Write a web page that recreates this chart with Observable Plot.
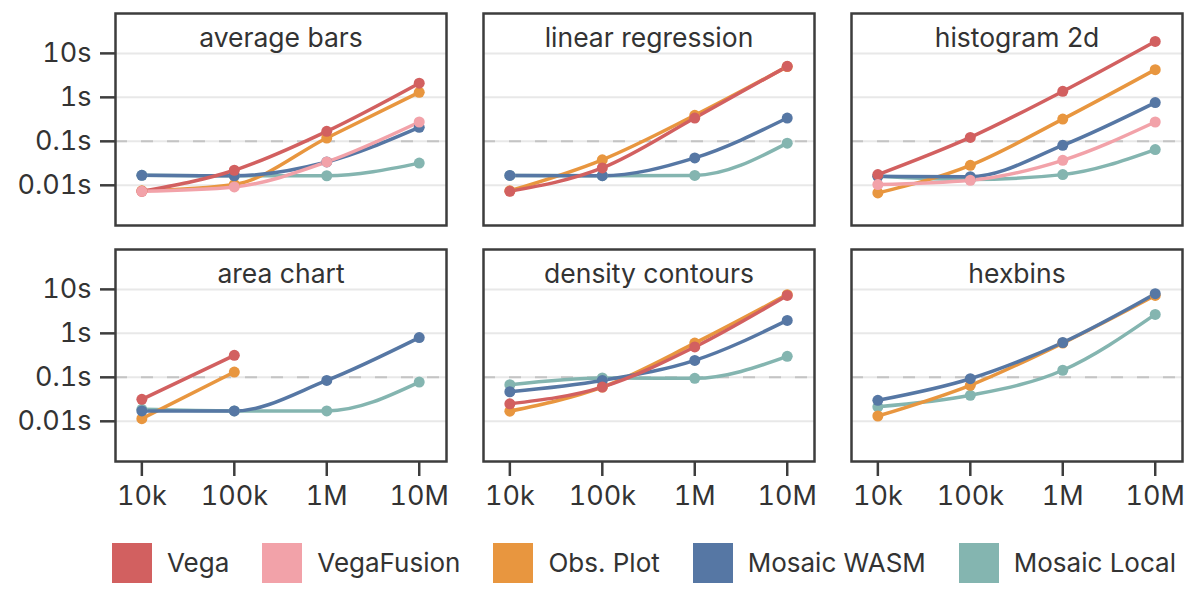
<!DOCTYPE html>
<html>
<head>
<meta charset="utf-8">
<script src="https://cdn.jsdelivr.net/npm/d3@7"></script>
<script src="https://cdn.jsdelivr.net/npm/@observablehq/plot@0.6"></script>
<style>
  html, body { margin: 0; padding: 0; background: #fff; }
  body { width: 1200px; height: 594px; position: relative; font-family: Inter, "Noto Sans", sans-serif; color: #333; }
  #legend { position: absolute; top: 543px; left: 112px; width: 1064px; display: flex; justify-content: space-between; align-items: center; }
  .item { display: flex; align-items: center; gap: 15px; font-size: 26px; line-height: 40px; color: #333; }
  .sw { width: 40px; height: 40px; display: inline-block; }
</style>
</head>
<body>
<div id="chart"></div>
<div id="legend"></div>
<script>
const sizes = [1e4, 1e5, 1e6, 1e7];
const sizeLabels = ["10k", "100k", "1M", "10M"];
const timeTicks = [0.01, 0.1, 1, 10];
const timeLabels = ["0.01s", "0.1s", "1s", "10s"];
const tasks = ["average bars", "linear regression", "histogram 2d", "area chart", "density contours", "hexbins"];
const taskCol = [0, 1, 2, 0, 1, 2];
const taskRow = [0, 0, 0, 1, 1, 1];
const systems = ["Vega", "VegaFusion", "Obs. Plot", "Mosaic WASM", "Mosaic Local"];
const colors = ["#d26060", "#f2a2a9", "#e8963f", "#5677a4", "#84b5b0"];
const drawOrder = ["Mosaic Local", "Obs. Plot", "Mosaic WASM", "Vega", "VegaFusion"];

// seconds, per task (in task order), per data size (10k, 100k, 1M, 10M)
const vegaTimes = [
  [0.0073, 0.022, 0.169, 2.1],
  [0.0073, 0.0248, 0.339, 5.07],
  [0.0175, 0.123, 1.37, 18.7],
  [0.0316, 0.316, null, null],
  [0.025, 0.06, 0.49, 7.3],
  [null, null, null, null]
];
const vegaFusionTimes = [
  [0.0073, 0.0092, 0.034, 0.275],
  [null, null, null, null],
  [0.0104, 0.013, 0.037, 0.275],
  [null, null, null, null],
  [null, null, null, null],
  [null, null, null, null]
];
const obsPlotTimes = [
  [0.0075, 0.0105, 0.119, 1.3],
  [0.0075, 0.038, 0.39, 5.0],
  [0.0067, 0.0285, 0.32, 4.27],
  [0.0115, 0.132, null, null],
  [0.017, 0.06, 0.6, 7.6],
  [0.0132, 0.066, 0.6, 7.3]
];
const mosaicWasmTimes = [
  [0.0169, 0.0165, 0.034, 0.208],
  [0.0168, 0.0166, 0.042, 0.339],
  [0.016, 0.0157, 0.081, 0.76],
  [0.0172, 0.0172, 0.085, 0.8],
  [0.047, 0.085, 0.243, 1.97],
  [0.030, 0.093, 0.62, 7.97]
];
const mosaicLocalTimes = [
  [0.0169, 0.0165, 0.0165, 0.032],
  [0.0168, 0.0166, 0.0168, 0.091],
  [0.016, 0.0135, 0.0175, 0.065],
  [0.0187, 0.0172, 0.0172, 0.078],
  [0.068, 0.097, 0.095, 0.30],
  [0.0214, 0.039, 0.145, 2.7]
];

const seriesBySystem = {
  "Vega": vegaTimes,
  "VegaFusion": vegaFusionTimes,
  "Obs. Plot": obsPlotTimes,
  "Mosaic WASM": mosaicWasmTimes,
  "Mosaic Local": mosaicLocalTimes
};

const rows = [];
for (const sys of drawOrder) {
  seriesBySystem[sys].forEach((vals, t) => {
    vals.forEach((v, i) => {
      if (v != null) rows.push({system: sys, task: tasks[t], col: taskCol[t], row: taskRow[t], size: sizes[i], time: v});
    });
  });
}
const titles = tasks.map((t, i) => ({task: t, col: taskCol[i], row: taskRow[i]}));

const chart = Plot.plot({
  width: 1200,
  height: 512,
  marginLeft: 114,
  marginRight: 16,
  marginTop: 12,
  marginBottom: 50,
  style: {fontFamily: "Inter, 'Noto Sans', sans-serif", fontSize: "27px", color: "#333", background: "#fff"},
  fx: {axis: null, padding: 0.1},
  fy: {axis: null, padding: 0.1},
  x: {type: "log", domain: [10 ** 3.715, 10 ** 7.295], axis: null},
  y: {type: "log", domain: [10 ** -2.914, 10 ** 1.907], axis: null},
  color: {domain: systems, range: colors},
  marks: [
    Plot.ruleY([0.01, 0.1, 1, 10], {stroke: "#e8e8e8", strokeWidth: 2}),
    Plot.ruleY([0.1], {stroke: "#c4c4c4", strokeWidth: 2, strokeDasharray: "12,14"}),
    Plot.frame({stroke: "#3d3d3d", strokeWidth: 2.5}),
    Plot.axisY({ticks: timeTicks, tickFormat: (d) => timeLabels[timeTicks.indexOf(d)], label: null, tickSize: 15, tickPadding: 9, strokeWidth: 2.5, stroke: "#3d3d3d", fontSize: 27}),
    Plot.axisX({ticks: sizes, tickFormat: (d) => sizeLabels[sizes.indexOf(d)], label: null, tickSize: 15, tickPadding: 9, strokeWidth: 2.5, stroke: "#3d3d3d", fontSize: 27}),
    Plot.text(titles, {fx: "col", fy: "row", text: "task", frameAnchor: "top", lineAnchor: "bottom", dy: 33, fontSize: 26.5, fill: "#333"}),
    Plot.lineY(rows, {fx: "col", fy: "row", x: "size", y: "time", z: "system", stroke: "system", strokeWidth: 3.5, curve: "monotone-x"}),
    Plot.dot(rows, {fx: "col", fy: "row", x: "size", y: "time", fill: "system", r: 5.5})
  ]
});
document.getElementById("chart").appendChild(chart);

const legend = document.getElementById("legend");
systems.forEach((s, i) => {
  const item = document.createElement("div");
  item.className = "item";
  const sw = document.createElement("span");
  sw.className = "sw";
  sw.style.background = colors[i];
  const label = document.createElement("span");
  label.textContent = s;
  item.appendChild(sw);
  item.appendChild(label);
  legend.appendChild(item);
});
</script>
</body>
</html>
